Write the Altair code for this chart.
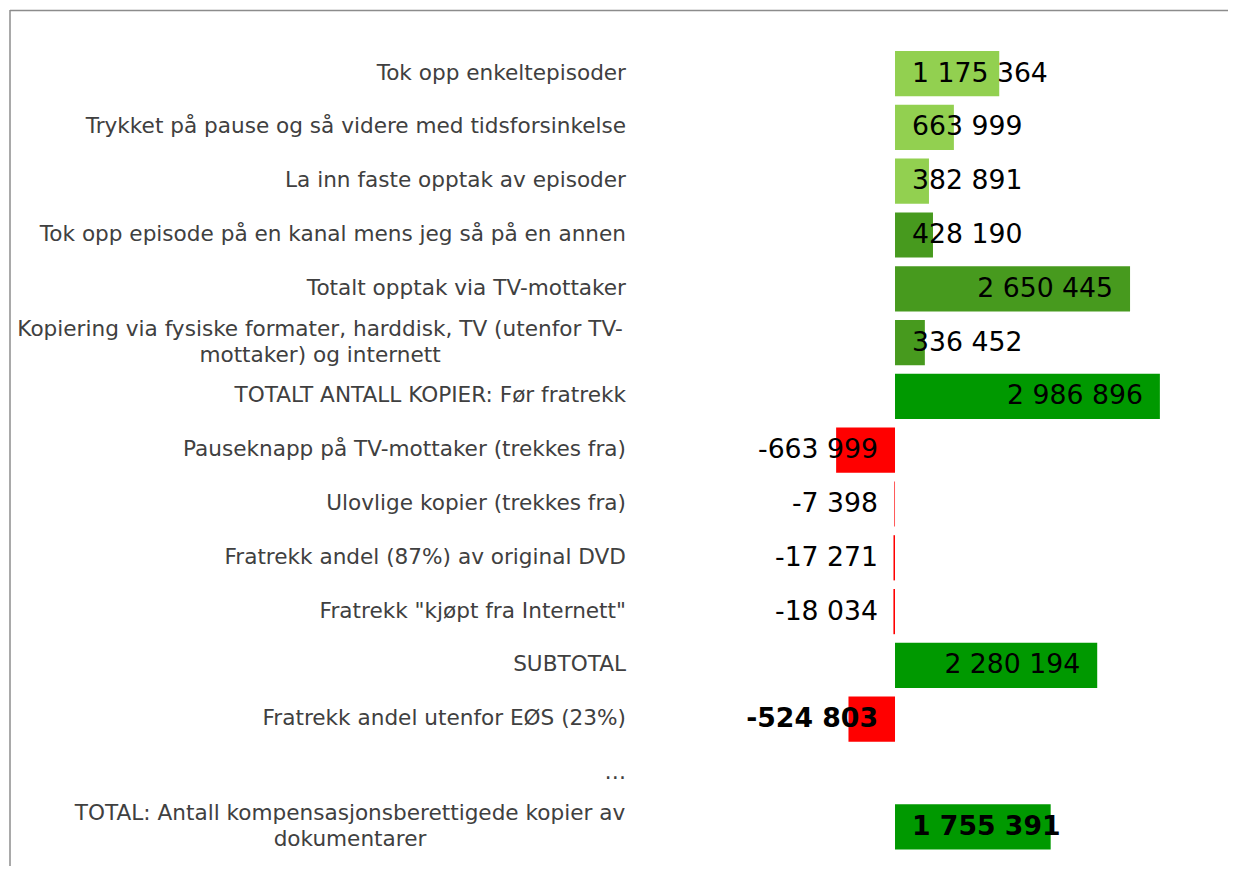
import altair as alt
import pandas as pd

# ---------------- data ----------------
categories = [
    "Tok opp enkeltepisoder",
    "Trykket på pause og så videre med tidsforsinkelse",
    "La inn faste opptak av episoder",
    "Tok opp episode på en kanal mens jeg så på en annen",
    "Totalt opptak via TV-mottaker",
    "Kopiering via fysiske formater, harddisk, TV (utenfor TV-\nmottaker) og internett",
    "TOTALT ANTALL KOPIER: Før fratrekk",
    "Pauseknapp på TV-mottaker (trekkes fra)",
    "Ulovlige kopier (trekkes fra)",
    "Fratrekk andel (87%) av original DVD",
    "Fratrekk \"kjøpt fra Internett\"",
    "SUBTOTAL",
    "Fratrekk andel utenfor EØS (23%)",
    "…",
    "TOTAL: Antall kompensasjonsberettigede kopier av\ndokumentarer",
]
values = [1175364, 663999, 382891, 428190, 2650445, 336452, 2986896,
          -663999, -7398, -17271, -18034, 2280194, -524803, None, 1755391]
kinds = ["del", "del", "del", "sum", "sum", "sum", "total",
         "minus", "minus", "minus", "minus", "total", "minus", "none", "total"]
bold = [False] * 12 + [True, False, True]

# ---------------- styling ----------------
kind_domain = ["del", "sum", "total", "minus"]
kind_range = ["#92D050", "#479A1E", "#009900", "#FF0000"]
FONT = "DejaVu Sans"
LABEL_COLOR = "#404040"
CAT_SIZE = 21.6
W, H = 1218, 856
LABEL_RIGHT = 616          # right edge of the category label column (px)


def fmt(v):
    if v is None:
        return ""
    return f"{v:,}".replace(",", " ")


df = pd.DataFrame({
    "row": list(range(len(categories))),
    "cat": categories,
    "value": values,
    "kind": kinds,
    "bold": bold,
    "label": [fmt(v) for v in values],
    "wrapped": ["\n" in c for c in categories],
})

base = alt.Chart(df)

yenc = alt.Y("cat:N", sort=categories, axis=None,
             scale=alt.Scale(range=[36.7, 843.7], paddingInner=0.16, paddingOuter=0.08))
xscale = alt.Scale(domain=[-9_980_000, 3_755_000], nice=False, zero=False)
xenc = alt.X("value:Q", scale=xscale, axis=None)

bars = base.transform_filter("isValid(datum.value)").mark_bar().encode(
    y=yenc,
    x=alt.X("value:Q", scale=xscale, axis=None, stack=None),
    x2=alt.X2("zero:Q"),
    color=alt.Color("kind:N", scale=alt.Scale(domain=kind_domain, range=kind_range), legend=None),
).transform_calculate(zero="0")

cat_single = base.transform_filter("!datum.wrapped").mark_text(
    align="right", baseline="middle", font=FONT, fontSize=CAT_SIZE, color=LABEL_COLOR
).encode(y=yenc, x=alt.value(LABEL_RIGHT), text="cat:N")


def wrapped_label(row, center):
    return base.transform_filter(f"datum.row == {row}").mark_text(
        align="center", baseline="middle", font=FONT, fontSize=CAT_SIZE, color=LABEL_COLOR,
        lineBreak="\n", lineHeight=25.5, dy=-12.5
    ).encode(y=yenc, x=alt.value(center), text="cat:N")


cat_wrap1 = wrapped_label(5, 310)
cat_wrap2 = wrapped_label(14, 340)


def value_labels(cond, align, at_zero, dx, weight):
    c = base.transform_filter("isValid(datum.value)").transform_filter(cond)
    if at_zero:
        c = c.transform_calculate(pos="0")
        enc_x = alt.X("pos:Q", scale=xscale, axis=None)
    else:
        enc_x = xenc
    return c.mark_text(
        align=align, baseline="middle", font=FONT, fontSize=26.7, color="black",
        dx=dx, fontWeight=weight
    ).encode(y=yenc, x=enc_x, text="label:N")


lab_pos_small = value_labels("datum.value > 0 && datum.value < 2000000 && !datum.bold", "left", True, 17, "normal")
lab_pos_small_b = value_labels("datum.value > 0 && datum.value < 2000000 && datum.bold", "left", True, 17, "bold")
lab_pos_big = value_labels("datum.value >= 2000000", "right", False, -17, "normal")
lab_neg = value_labels("datum.value < 0 && !datum.bold", "right", True, -17, "normal")
lab_neg_b = value_labels("datum.value < 0 && datum.bold", "right", True, -17, "bold")

frame_top = base.transform_filter("datum.row == 0").mark_rule(color="#8c8c8c", strokeWidth=1.5).encode(
    x=alt.value(0), x2=alt.value(W), y=alt.value(0.5))
frame_left = base.transform_filter("datum.row == 0").mark_rule(color="#8c8c8c", strokeWidth=1.5).encode(
    x=alt.value(0), y=alt.value(0), y2=alt.value(H))

chart = alt.layer(
    bars, cat_single, cat_wrap1, cat_wrap2,
    lab_pos_small, lab_pos_small_b, lab_pos_big, lab_neg, lab_neg_b,
    frame_top, frame_left,
).properties(
    width=W, height=H,
    autosize=alt.AutoSizeParams(type="none"),
    padding={"left": 2, "top": 2, "right": 0, "bottom": 0},
).configure_view(stroke=None)

chart.save("out.html", embed_options={"renderer": "svg", "actions": False})
